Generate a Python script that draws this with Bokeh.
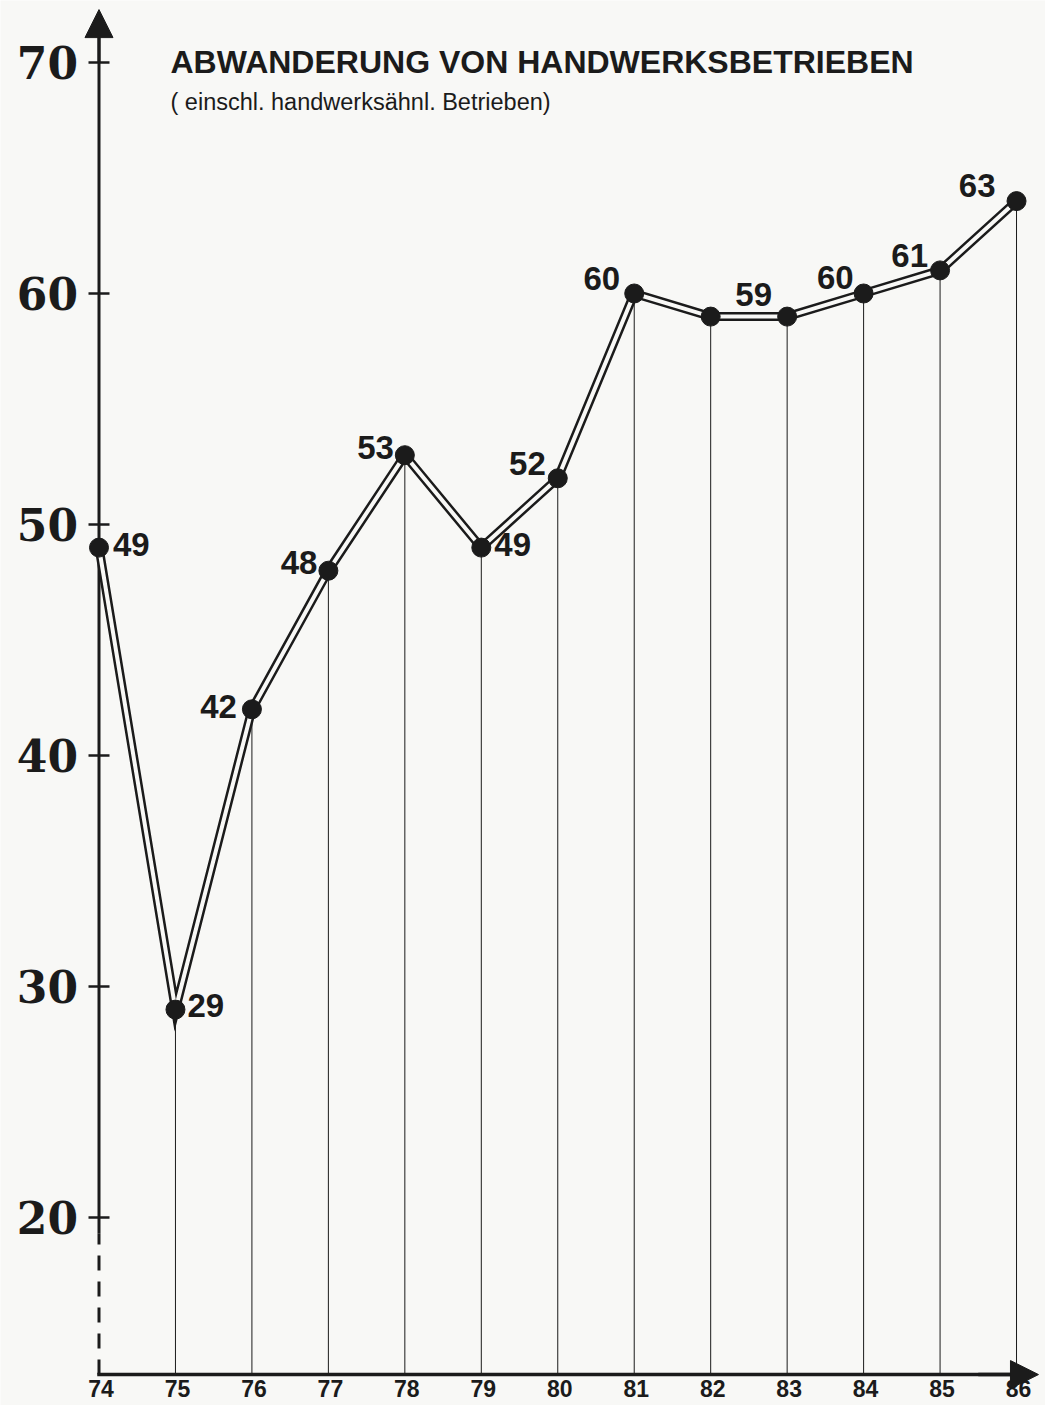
from bokeh.plotting import figure
from bokeh.models import Arrow, NormalHead, ColumnDataSource, Range1d
from bokeh.core.properties import value
from bokeh.embed import file_html
from bokeh.resources import INLINE

# ---------------- data ----------------
years = [74, 75, 76, 77, 78, 79, 80, 81, 82, 83, 84, 85, 86]
year_labels = ["74", "75", "76", "77", "78", "79", "80", "81", "82", "83", "84", "85", "86"]
values = [49, 29, 42, 48, 53, 49, 52, 60, 59, 59, 60, 61, 64]
point_labels = ["49", "29", "42", "48", "53", "49", "52", "60", "59", "", "60", "61", "63"]
y_ticks = [20, 30, 40, 50, 60, 70]
y_tick_labels = ["20", "30", "40", "50", "60", "70"]
title = "ABWANDERUNG VON HANDWERKSBETRIEBEN"
subtitle = "( einschl. handwerksähnl. Betrieben)"

# ---------------- style ----------------
BG = "#f8f8f6"
INK = "#1b1b1b"
BASE = 13.2          # value where the x axis sits
lab_dx = [14, 12, -15, -11, -11, 13, -12, -14, 43, 0, -10, -12, -21]
lab_dy = [-3, -4, -3, -8, -8, -3, -15, -15, -22, 0, -16, -15, -16]
lab_align = ["left", "left", "right", "right", "right", "left", "right",
             "right", "center", "center", "right", "right", "right"]

p = figure(width=1045, height=1405,
           x_range=Range1d(72.7118, 86.3789), y_range=Range1d(11.861, 72.684),
           output_backend="svg", toolbar_location=None, min_border=0,
           x_axis_location=None, y_axis_location=None)
p.grid.visible = False
p.outline_line_color = None
p.background_fill_color = BG
p.border_fill_color = BG

# drop lines
p.segment(x0=years[1:], y0=values[1:], x1=years[1:], y1=[BASE] * (len(years) - 1),
          line_width=1, line_color=INK)

# y axis (solid part, dashed lower part) and arrow
p.line([years[0], years[0]], [19.3, 71.5], line_width=3, line_color=INK)
p.line([years[0], years[0]], [BASE, 19.3], line_width=3, line_color=INK, line_dash="15 11")
p.add_layout(Arrow(end=NormalHead(size=28, fill_color=INK, line_color=INK),
                   x_start=years[0], y_start=70, x_end=years[0], y_end=72.29,
                   line_width=3, line_color=INK))
p.scatter(x=[years[0]] * len(y_ticks), y=y_ticks, marker="dash", size=21,
          line_width=2.5, line_color=INK)

# x axis and arrow
p.line([years[0], 86.0], [BASE, BASE], line_width=3.5, line_color=INK, line_cap="square")
p.add_layout(Arrow(end=NormalHead(size=28, fill_color=INK, line_color=INK),
                   x_start=85.5, y_start=BASE, x_end=86.287, y_end=BASE,
                   line_width=3.5, line_color=INK))

# double line
p.line(years, values, line_width=9, line_color=INK, line_join="miter")
p.line(years, values, line_width=4, line_color=BG, line_join="miter")
p.scatter(years, values, size=19, fill_color=INK, line_color=INK)

# point labels
src = ColumnDataSource(dict(x=years, y=values, t=point_labels, dx=lab_dx, dy=lab_dy, al=lab_align))
p.text(x="x", y="y", text="t", x_offset="dx", y_offset="dy", text_align="al", source=src,
       text_baseline="middle", text_font=value("Liberation Sans"), text_font_style="bold",
       text_font_size="33px", text_color=INK)

# y tick labels
p.text(x=[years[0]] * len(y_ticks), y=y_ticks, text=y_tick_labels, x_offset=-21,
       text_align="right", text_baseline="middle", text_font=value("DejaVu Serif"),
       text_font_style="bold", text_font_size="44px", text_color=INK)

# x tick labels
p.text(x=years, y=[BASE] * len(years), text=year_labels, x_offset=2, y_offset=14,
       text_align="center", text_baseline="middle", text_font=value("Liberation Sans"),
       text_font_style="bold", text_font_size="23px", text_color=INK)

# title & subtitle
p.text(x=[74.935], y=[70.04], text=[title], text_align="left", text_baseline="alphabetic",
       text_font=value("Liberation Sans"), text_font_style="bold", text_font_size="32px",
       text_color=INK)
p.text(x=[74.935], y=[68.3], text=[subtitle], text_align="left", text_baseline="alphabetic",
       text_font=value("Liberation Sans"), text_font_size="23.5px", text_color=INK)

open("out.html", "w").write(file_html(p, INLINE))
